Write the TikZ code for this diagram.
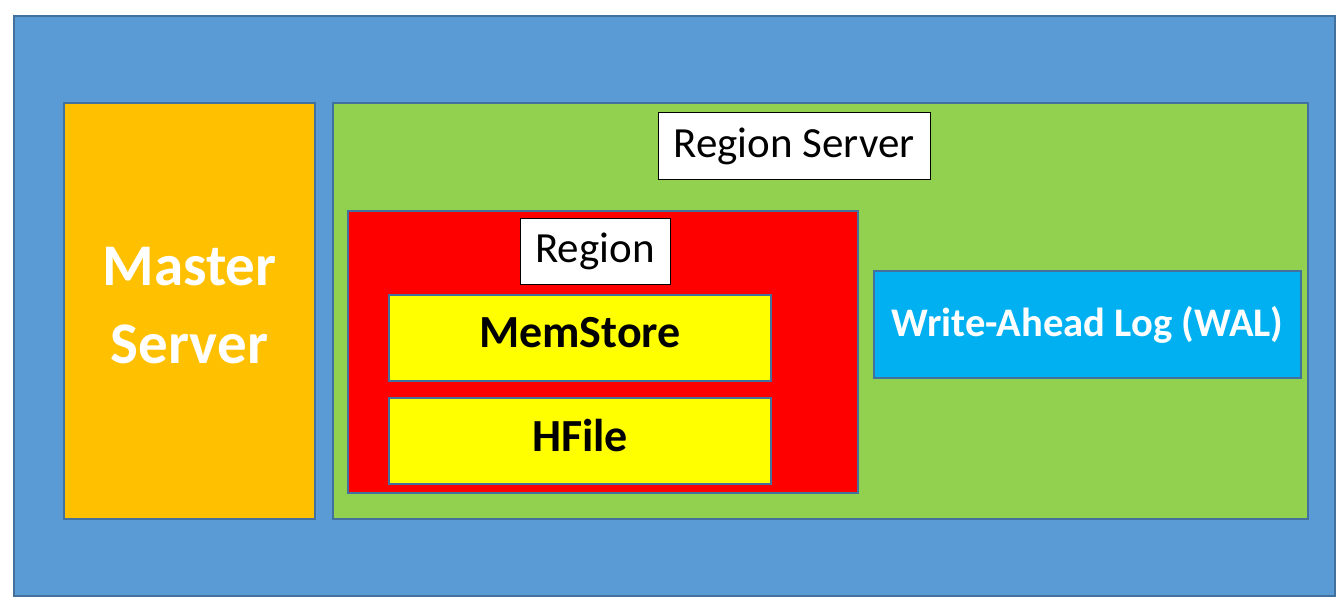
\documentclass[tikz,border=0pt]{standalone}
\usepackage{fontspec}
\setmainfont{Carlito}
\usepackage{tikz}
\usetikzlibrary{positioning}
\definecolor{hostblue}{HTML}{5B9BD5}
\definecolor{edgeblue}{HTML}{41719C}
\definecolor{masterorange}{HTML}{FFC000}
\definecolor{rsgreen}{HTML}{92D050}
\definecolor{regionred}{HTML}{FF0000}
\definecolor{storeyellow}{HTML}{FFFF00}
\definecolor{walcyan}{HTML}{00B0F0}

\begin{document}
\begin{tikzpicture}[x=0.5pt,y=-0.5pt,
  box/.style={draw=edgeblue,line width=1pt,inner sep=0pt,align=center},
  lbl/.style={draw=black,line width=0.5pt,fill=white,inner sep=0pt,
    minimum height=33pt,font=\fontsize{21.5}{26}\selectfont},
  store/.style={box,fill=storeyellow,minimum width=191pt,minimum height=43pt,
    text depth=5.5pt,font=\fontsize{23}{28}\selectfont\bfseries}]
\useasboundingbox (0,0) rectangle (1344,610);
\node[box,fill=hostblue,minimum width=660.5pt,minimum height=290pt] (host) at (674.5,306) {};
\node[box,fill=masterorange,minimum width=125.5pt,minimum height=208pt,text=white,
  font=\fontsize{29.5}{39}\selectfont\bfseries] (master) at (189.5,311)
  {Master\\Server\\[-33pt]\mbox{}};
\node[box,fill=rsgreen,minimum width=487.5pt,minimum height=208pt] (rs) at (820.5,311) {};
\node[lbl,minimum width=136pt] (rsname) at (794,146) {Region Server};
\node[box,fill=regionred,minimum width=255pt,minimum height=141pt] (region) at (603,352) {};
\node[lbl,minimum width=75pt] (regionname) at (595,251) {Region};
\node[store] (mem) at (580,338) {MemStore};
\node[store] (hfile) at (580,441) {HFile};
\node[box,fill=walcyan,minimum width=213.5pt,minimum height=53.5pt,text=white,
  font=\fontsize{20.3}{24}\selectfont\bfseries] (wal) at (1087.5,324.5) {Write-Ahead Log (WAL)};
\end{tikzpicture}
\end{document}
